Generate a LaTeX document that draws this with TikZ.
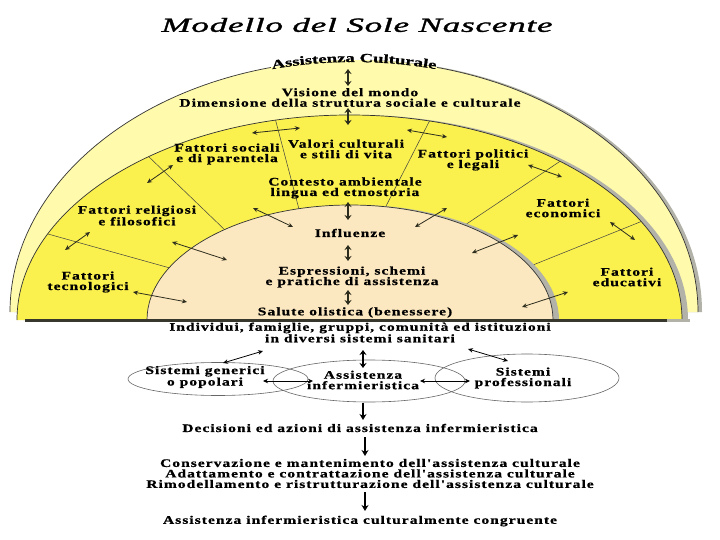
\documentclass[tikz,border=0pt]{standalone}
\usepackage{fontspec}
\setmainfont{Liberation Serif}
\newfontfamily\rf[FakeStretch=1.35,LetterSpace=9,FakeBold=0.8]{Liberation Serif}
\newfontfamily\af[FakeStretch=1.5,FakeBold=0.8]{Liberation Serif}
\newfontfamily\tf[FakeStretch=1.75,LetterSpace=4,FakeBold=1.6]{Liberation Serif}
\usetikzlibrary{arrows.meta,shapes.geometric,decorations.text}
\definecolor{lightY}{RGB}{255,250,172}
\definecolor{midY}{RGB}{250,240,78}
\definecolor{peach}{RGB}{252,232,192}
\definecolor{shad}{RGB}{178,178,168}
\definecolor{arr}{RGB}{45,45,30}
\definecolor{barc}{RGB}{55,55,45}
\begin{document}
\begin{tikzpicture}[x=1pt,y=-1pt,
  lbl/.style={font=\rf\bfseries\fontsize{11.5}{10.5}\selectfont, align=center, inner sep=0pt},
  dbl/.style={draw=arr, line width=0.8pt, {Stealth[length=5pt,width=4.5pt]}-{Stealth[length=5pt,width=4.5pt]}},
  vdbl/.style={draw=arr, line width=1.6pt, {Stealth[length=5pt,width=7pt]}-{Stealth[length=5pt,width=7pt]}},
  downarr/.style={draw=black, line width=1.5pt, -{Stealth[length=6pt,width=7pt]}},
  divl/.style={draw=black!75, line width=0.5pt},
  outl/.style={draw=black!80, line width=0.7pt},
  ell/.style={ellipse, draw=black!60, line width=0.6pt, inner sep=0pt},
]
\useasboundingbox (0,0) rectangle (720,540);
\fill[white] (0,0) rectangle (720,540);

% outer light band
\fill[shad] (14,312) arc[start angle=180,end angle=360,x radius=344,y radius=252] -- cycle;
\fill[lightY] (10,312) arc[start angle=180,end angle=360,x radius=344,y radius=252] -- cycle;
\draw[outl] (10,312) arc[start angle=180,end angle=256,x radius=344,y radius=252];
\draw[outl] (698,312) arc[start angle=0,end angle=-76,x radius=344,y radius=252];

% yellow band
\fill[shad] (23,320) arc[start angle=180,end angle=360,x radius=332.5,y radius=205] -- cycle;
\fill[midY] (17,320) arc[start angle=180,end angle=360,x radius=332.5,y radius=205] -- cycle;
\draw[outl] (17,320) arc[start angle=180,end angle=360,x radius=332.5,y radius=205];

\begin{scope}
\clip (17,320) arc[start angle=180,end angle=360,x radius=332.5,y radius=205] -- cycle;
\draw[divl] (35.8,230.6) -- (176,269.7);
\draw[divl] (139,147.3) -- (235,239.7);
\draw[divl] (272.5,108.5) -- (302.5,222.5);
\draw[divl] (434.7,110.8) -- (378.3,221.2);
\draw[divl] (572,153.3) -- (452,233.7);
\draw[divl] (656.7,215.3) -- (516.3,271.7);
\end{scope}

% peach core
\fill[shad] (153,320) arc[start angle=180,end angle=360,x radius=203,y radius=115] -- cycle;
\fill[peach] (147,320) arc[start angle=180,end angle=360,x radius=203,y radius=115] -- cycle;
\draw[outl] (147,320) arc[start angle=180,end angle=360,x radius=203,y radius=115];

% base bar
\draw[barc, line width=3pt] (25,320.5) -- (667,320.5);
\draw[shad, line width=3pt] (667,320.5) -- (690,320.5);

% curved title of outer band
\path[decorate, decoration={text along path, text align=center, raise=-2pt,
  text={|\af\bfseries\fontsize{12.5}{12.5}\selectfont|Assistenza Culturale}}]
  (10,312) arc[start angle=180,end angle=360,x radius=344,y radius=252];

% title
\node[font=\tf\itshape\fontsize{20}{20}\selectfont, inner sep=0pt] (title) at (357,25) {Modello del Sole Nascente};

% labels
\node[lbl] (vis) at (350,97.5) {Visione del mondo\\Dimensione della struttura sociale e culturale};
\node[lbl] (soc) at (227,154) {Fattori sociali\\e di parentela};
\node[lbl] (val) at (346,149) {Valori culturali\\e stili di vita};
\node[lbl] (pol) at (473,160) {Fattori politici\\e legali};
\node[lbl] (con) at (345,188) {Contesto ambientale\\lingua ed etnostoria};
\node[lbl] (rel) at (137,215.5) {Fattori religiosi\\e filosofici};
\node[lbl] (eco) at (563,208) {Fattori\\economici};
\node[lbl] (inf) at (350,233) {Influenze};
\node[lbl] (esp) at (352,277) {Espressioni, schemi\\e pratiche di assistenza};
\node[lbl] (tec) at (88,282) {Fattori\\tecnologici};
\node[lbl] (edu) at (627,277) {Fattori\\educativi};
\node[lbl] (sal) at (355,312.5) {Salute olistica (benessere)};
\node[lbl] (ind) at (360,332.5) {Individui, famiglie, gruppi, comunità ed istituzioni\\in diversi sistemi sanitari};

% ellipses
\node[ell, minimum width=180pt, minimum height=33pt] (eL) at (218,379) {};
\node[ell, minimum width=192pt, minimum height=42pt] (eM) at (369,381) {};
\node[ell, minimum width=184pt, minimum height=48pt] (eR) at (527,378) {};
\node[lbl] (gen) at (205,377) {Sistemi generici\\o popolari};
\node[lbl] (ass) at (363,380) {Assistenza\\infermieristica};
\node[lbl] (pro) at (523,378) {Sistemi\\professionali};

\node[lbl] (dec) at (360,428) {Decisioni ed azioni di assistenza infermieristica};
\node[lbl] (cons) at (370,473.5) {Conservazione e mantenimento dell'assistenza culturale\\Adattamento e contrattazione dell'assistenza culturale\\Rimodellamento e ristrutturazione dell'assistenza culturale};
\node[lbl] (cong) at (360,521) {Assistenza infermieristica culturalmente congruente};

% arrow end points
\coordinate (v1a) at (348,69); \coordinate (v1b) at (348,86);
\coordinate (v2a) at (348,108); \coordinate (v2b) at (348,125);
\coordinate (v3a) at (348,202); \coordinate (v3b) at (348,220);
\coordinate (v4a) at (348,245); \coordinate (v4b) at (348,261);
\coordinate (v5a) at (348,290); \coordinate (v5b) at (348,305);
\draw[vdbl] (v1a) -- (v1b);
\draw[vdbl] (v2a) -- (v2b);
\draw[vdbl] (v3a) -- (v3b);
\draw[vdbl] (v4a) -- (v4b);
\draw[vdbl] (v5a) -- (v5b);

\coordinate (d1a) at (252,133); \coordinate (d1b) at (300,128);
\coordinate (d2a) at (173,165); \coordinate (d2b) at (147,183);
\coordinate (d3a) at (407,130); \coordinate (d3b) at (447,137);
\coordinate (d4a) at (528,165); \coordinate (d4b) at (562,177);
\coordinate (d5a) at (90,232); \coordinate (d5b) at (65,250);
\coordinate (d6a) at (253,208); \coordinate (d6b) at (293,227);
\coordinate (d7a) at (172,242); \coordinate (d7b) at (227,260);
\coordinate (d8a) at (133,292); \coordinate (d8b) at (187,302);
\coordinate (d9a) at (447,208); \coordinate (d9b) at (415,227);
\coordinate (d10a) at (518,235); \coordinate (d10b) at (472,253);
\coordinate (d11a) at (610,222); \coordinate (d11b) at (635,240);
\coordinate (d12a) at (568,292); \coordinate (d12b) at (522,307);
\foreach \i in {1,...,12} { \draw[dbl] (d\i a) -- (d\i b); }

% lower arrows
\coordinate (m1a) at (363,350); \coordinate (m1b) at (363,368);
\coordinate (m2a) at (263,351); \coordinate (m2b) at (223,363);
\coordinate (m3a) at (468,349); \coordinate (m3b) at (508,361);
\coordinate (m4a) at (263,381); \coordinate (m4b) at (313,381);
\coordinate (m5a) at (420,381); \coordinate (m5b) at (470,381);
\draw[vdbl, draw=black] (m1a) -- (m1b);
\draw[dbl, draw=black] (m2a) -- (m2b);
\draw[dbl, draw=black] (m3a) -- (m3b);
\draw[dbl, draw=black] (m4a) -- (m4b);
\draw[dbl, draw=black] (m5a) -- (m5b);

\coordinate (f1a) at (363,403); \coordinate (f1b) at (363,420);
\coordinate (f2a) at (365,437); \coordinate (f2b) at (365,456);
\coordinate (f3a) at (365,492); \coordinate (f3b) at (365,511);
\draw[downarr] (f1a) -- (f1b);
\draw[downarr] (f2a) -- (f2b);
\draw[downarr] (f3a) -- (f3b);
\end{tikzpicture}
\end{document}
